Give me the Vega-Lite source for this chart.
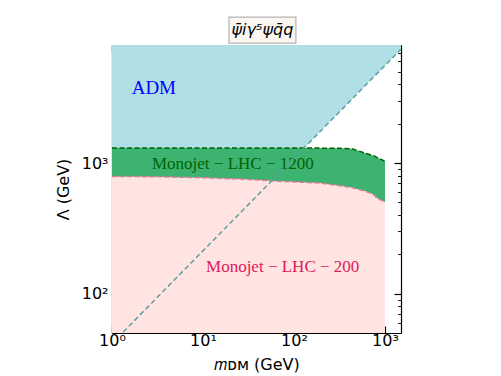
{
  "$schema": "https://vega.github.io/schema/vega-lite/v6.json",
  "autosize": {"type": "none"},
  "padding": {"left": 112, "top": 45, "right": 100, "bottom": 43},
  "width": 289,
  "height": 288,
  "background": "white",
  "config": {"view": {"stroke": null}},
  "datasets": {
    "bounds": [
      {"m": 1, "lo": 790, "hi": 1302},
      {"m": 3, "lo": 785, "hi": 1301},
      {"m": 10, "lo": 772, "hi": 1300},
      {"m": 30, "lo": 750, "hi": 1300},
      {"m": 70, "lo": 724, "hi": 1300},
      {"m": 190, "lo": 703, "hi": 1300},
      {"m": 320, "lo": 671, "hi": 1295},
      {"m": 430, "lo": 648, "hi": 1286},
      {"m": 530, "lo": 625, "hi": 1228},
      {"m": 575, "lo": 615, "hi": 1205},
      {"m": 710, "lo": 583, "hi": 1150},
      {"m": 780, "lo": 562, "hi": 1123},
      {"m": 805, "lo": 541, "hi": 1110},
      {"m": 920, "lo": 518, "hi": 1060},
      {"m": 1000, "lo": 500, "hi": 1028}
    ],
    "adm": [
      {"m": 1, "L": 41.6},
      {"m": 1500, "L": 7433}
    ]
  },
  "resolve": {"axis": {"x": "independent", "y": "independent"}},
  "layer": [
    {
      "layer": [
        {
          "data": {"name": "adm"},
          "mark": {"type": "area", "color": "#b0e0e6", "clip": true, "opacity": 1},
          "encoding": {
            "x": {
              "field": "m", "type": "quantitative",
              "scale": {"type": "log", "domain": [1, 1500], "nice": false},
              "axis": {
                "orient": "bottom",
                "values": [1,2,3,4,5,6,7,8,9,10,20,30,40,50,60,70,80,90,100,200,300,400,500,600,700,800,900,1000],
                "labelExpr": "datum.value == 1 ? '10⁰' : datum.value == 10 ? '10¹' : datum.value == 100 ? '10²' : datum.value == 1000 ? '10³' : ''",
                "tickSize": {"condition": {"test": "indexof([1,10,100,1000], datum.value) >= 0", "value": -7}, "value": -3.5},
                "tickWidth": {"condition": {"test": "indexof([1,10,100,1000], datum.value) >= 0", "value": 1.2}, "value": 0.9},
                "tickColor": "black",
                "domainColor": "black",
                "domainWidth": 1.2,
                "labelFont": "DejaVu Sans",
                "labelFontSize": 16,
                "labelColor": "black",
                "labelPadding": 6,
                "labelFlush": false,
                "labelOverlap": false,
                "grid": false,
                "title": "𝑚ᴅᴍ (GeV)",
                "titleFont": "DejaVu Sans",
                "titleFontSize": 16,
                "titleFontWeight": "normal",
                "titleColor": "black",
                "titlePadding": 5
              }
            },
            "y": {
              "field": "L", "type": "quantitative",
              "scale": {"type": "log", "domain": [50, 8000], "nice": false},
              "axis": {
                "orient": "left",
                "values": [60,70,80,90,100,200,300,400,500,600,700,800,900,1000,2000,3000,4000,5000,6000,7000],
                "labelExpr": "datum.value == 100 ? '10²' : datum.value == 1000 ? '10³' : ''",
                "tickSize": {"condition": {"test": "indexof([100,1000], datum.value) >= 0", "value": -7}, "value": -3.5},
                "tickWidth": {"condition": {"test": "indexof([100,1000], datum.value) >= 0", "value": 1.2}, "value": 0.9},
                "tickColor": "black",
                "domainColor": "black",
                "domainWidth": 1.2,
                "labelFont": "DejaVu Sans",
                "labelFontSize": 16,
                "labelColor": "black",
                "labelPadding": 11,
                "labelFlush": false,
                "labelOverlap": false,
                "grid": false,
                "title": "Λ (GeV)",
                "titleFont": "DejaVu Sans",
                "titleFontSize": 16,
                "titleFontWeight": "normal",
                "titleColor": "black",
                "titlePadding": 10
              }
            },
            "y2": {"datum": 8000}
          }
        },
        {
          "data": {"name": "bounds"},
          "mark": {"type": "area", "color": "#ffe4e1", "clip": true, "opacity": 1},
          "encoding": {
            "x": {"field": "m", "type": "quantitative", "scale": {"type": "log", "domain": [1, 1500], "nice": false}},
            "y": {"field": "lo", "type": "quantitative", "scale": {"type": "log", "domain": [50, 8000], "nice": false}},
            "y2": {"datum": 50}
          }
        },
        {
          "data": {"name": "bounds"},
          "mark": {"type": "area", "color": "#3cb371", "clip": true, "opacity": 1},
          "encoding": {
            "x": {"field": "m", "type": "quantitative", "scale": {"type": "log", "domain": [1, 1500], "nice": false}},
            "y": {"field": "hi", "type": "quantitative", "scale": {"type": "log", "domain": [50, 8000], "nice": false}},
            "y2": {"field": "lo"}
          }
        },
        {
          "data": {"name": "bounds"},
          "mark": {"type": "line", "color": "#e0789a", "strokeWidth": 1.5, "strokeDash": [5, 2.5], "clip": true},
          "encoding": {
            "x": {"field": "m", "type": "quantitative", "scale": {"type": "log", "domain": [1, 1500], "nice": false}},
            "y": {"field": "lo", "type": "quantitative", "scale": {"type": "log", "domain": [50, 8000], "nice": false}}
          }
        },
        {
          "data": {"name": "bounds"},
          "mark": {"type": "line", "color": "#006400", "strokeWidth": 1.5, "strokeDash": [5, 2.5], "clip": true},
          "encoding": {
            "x": {"field": "m", "type": "quantitative", "scale": {"type": "log", "domain": [1, 1500], "nice": false}},
            "y": {"field": "hi", "type": "quantitative", "scale": {"type": "log", "domain": [50, 8000], "nice": false}}
          }
        },
        {
          "data": {"values": [{"label": "ADM", "m": 1.645, "L": 3365}]},
          "mark": {"type": "text", "color": "#0000ff", "font": "Liberation Serif", "fontSize": 19, "align": "left", "baseline": "alphabetic"},
          "encoding": {
            "x": {"field": "m", "type": "quantitative", "scale": {"type": "log", "domain": [1, 1500], "nice": false}},
            "y": {"field": "L", "type": "quantitative", "scale": {"type": "log", "domain": [50, 8000], "nice": false}},
            "text": {"field": "label"}
          }
        },
        {
          "data": {"values": [{"label": "Monojet − LHC − 1200", "m": 2.75, "L": 905}]},
          "mark": {"type": "text", "color": "#006400", "font": "Liberation Serif", "fontSize": 17, "align": "left", "baseline": "alphabetic"},
          "encoding": {
            "x": {"field": "m", "type": "quantitative", "scale": {"type": "log", "domain": [1, 1500], "nice": false}},
            "y": {"field": "L", "type": "quantitative", "scale": {"type": "log", "domain": [50, 8000], "nice": false}},
            "text": {"field": "label"}
          }
        },
        {
          "data": {"values": [{"label": "Monojet − LHC − 200", "m": 10.8, "L": 147}]},
          "mark": {"type": "text", "color": "#dc1a5a", "font": "Liberation Serif", "fontSize": 17, "align": "left", "baseline": "alphabetic"},
          "encoding": {
            "x": {"field": "m", "type": "quantitative", "scale": {"type": "log", "domain": [1, 1500], "nice": false}},
            "y": {"field": "L", "type": "quantitative", "scale": {"type": "log", "domain": [50, 8000], "nice": false}},
            "text": {"field": "label"}
          }
        },
        {
          "data": {"values": [{}]},
          "mark": {"type": "rect", "fill": "#fbf6f0", "stroke": "#b5b5b5", "strokeWidth": 1.2, "clip": false},
          "encoding": {
            "x": {"datum": 19.3, "type": "quantitative", "scale": {"type": "log", "domain": [1, 1500], "nice": false}},
            "x2": {"datum": 105},
            "y": {"datum": 8280, "type": "quantitative", "scale": {"type": "log", "domain": [50, 8000], "nice": false}},
            "y2": {"datum": 13090}
          }
        },
        {
          "data": {"values": [{"label": "ψ̄iγ⁵ψq̄q"}]},
          "mark": {"type": "text", "color": "black", "font": "DejaVu Sans", "fontStyle": "italic", "fontSize": 16, "align": "center", "baseline": "middle", "clip": false},
          "encoding": {
            "x": {"datum": 45, "type": "quantitative", "scale": {"type": "log", "domain": [1, 1500], "nice": false}},
            "y": {"datum": 10414, "type": "quantitative", "scale": {"type": "log", "domain": [50, 8000], "nice": false}},
            "text": {"field": "label"}
          }
        }
      ]
    },
    {
      "data": {"name": "adm"},
      "mark": {"type": "line", "color": "#5f9ea0", "strokeWidth": 1.5, "strokeDash": [5, 3], "clip": true},
      "encoding": {
        "x": {
          "field": "m", "type": "quantitative",
          "scale": {"type": "log", "domain": [1, 1500], "nice": false},
          "axis": {
            "orient": "top",
            "values": [1,2,3,4,5,6,7,8,9,10,20,30,40,50,60,70,80,90,100,200,300,400,500,600,700,800,900,1000],
            "labels": false,
            "tickSize": {"condition": {"test": "indexof([1,10,100,1000], datum.value) >= 0", "value": -7}, "value": -3.5},
            "tickWidth": {"condition": {"test": "indexof([1,10,100,1000], datum.value) >= 0", "value": 1.2}, "value": 0.9},
            "tickColor": "black",
            "domainColor": "black",
            "domainWidth": 1.2,
            "grid": false,
            "title": null
          }
        },
        "y": {
          "field": "L", "type": "quantitative",
          "scale": {"type": "log", "domain": [50, 8000], "nice": false},
          "axis": {
            "orient": "right",
            "values": [60,70,80,90,100,200,300,400,500,600,700,800,900,1000,2000,3000,4000,5000,6000,7000],
            "labels": false,
            "tickSize": {"condition": {"test": "indexof([100,1000], datum.value) >= 0", "value": -7}, "value": -3.5},
            "tickWidth": {"condition": {"test": "indexof([100,1000], datum.value) >= 0", "value": 1.2}, "value": 0.9},
            "tickColor": "black",
            "domainColor": "black",
            "domainWidth": 1.2,
            "grid": false,
            "title": null
          }
        }
      }
    }
  ]
}
